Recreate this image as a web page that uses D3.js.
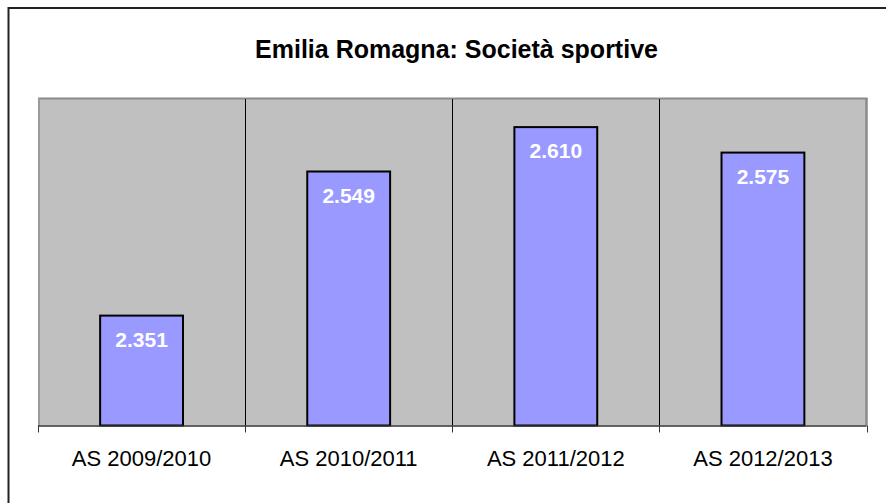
<!DOCTYPE html>
<html><head><meta charset="utf-8">
<script src="https://cdn.jsdelivr.net/npm/d3@7"></script>
<style>body{margin:0;background:#fff}svg{display:block}text{font-family:"Liberation Sans",Arial,sans-serif}</style>
</head><body>
<script>
const categories = ["AS 2009/2010","AS 2010/2011","AS 2011/2012","AS 2012/2013"];
const values = [2351, 2549, 2610, 2575];
const valueLabels = ["2.351","2.549","2.610","2.575"];
const title = "Emilia Romagna: Società sportive";
const yDomain = [2200, 2650];

const W = 886, H = 503;
const L = 38, R = 866.5, T = 98, B = 425.5;
const svg = d3.select("body").append("svg").attr("width", W).attr("height", H);

// outer chart border (only top and left visible)
svg.append("line").attr("x1", 8.5).attr("x2", W).attr("y1", 8).attr("y2", 8).attr("stroke", "#222").attr("stroke-width", 2);
svg.append("line").attr("x1", 8.5).attr("x2", 8.5).attr("y1", 7).attr("y2", H).attr("stroke", "#222").attr("stroke-width", 2);

const x = d3.scaleBand().domain(categories).range([L, R]).paddingInner(0.6).paddingOuter(0.3);
const xc = d3.scaleBand().domain(categories).range([L, R]).padding(0);
const y = d3.scaleLinear().domain(yDomain).range([B, T]);

// plot area
svg.append("rect").attr("x", L).attr("y", T).attr("width", R - L).attr("height", B - T).attr("fill", "#C0C0C0");
svg.append("line").attr("x1", L).attr("x2", R + 1).attr("y1", T + 0.5).attr("y2", T + 0.5).attr("stroke", "#8a8a8a").attr("stroke-width", 2);
svg.append("line").attr("x1", R).attr("x2", R).attr("y1", T).attr("y2", B).attr("stroke", "#8a8a8a").attr("stroke-width", 2.5);
svg.append("line").attr("x1", L + 1).attr("x2", L + 1).attr("y1", T).attr("y2", B).attr("stroke", "#9a9a9a").attr("stroke-width", 2);

// vertical gridlines at category boundaries
svg.selectAll(".grid").data(categories.slice(1)).enter().append("line")
  .attr("x1", d => Math.round(xc(d)) + 0.5).attr("x2", d => Math.round(xc(d)) + 0.5)
  .attr("y1", T + 1).attr("y2", B).attr("stroke", "#000").attr("stroke-width", 1);

// bars
svg.selectAll(".bar").data(values).enter().append("rect")
  .attr("x", (d, i) => x(categories[i]))
  .attr("y", d => y(d))
  .attr("width", x.bandwidth())
  .attr("height", d => B - y(d))
  .attr("fill", "#9999FF").attr("stroke", "#000").attr("stroke-width", 2);

// x axis
const xAxis = d3.axisBottom(xc).tickSize(0).tickPadding(0).tickFormat("");
const gx = svg.append("g").attr("transform", `translate(0,${B})`).call(xAxis);
gx.select(".domain").remove();
svg.append("line").attr("x1", L).attr("x2", R).attr("y1", B + 0.5).attr("y2", B + 0.5).attr("stroke", "#333").attr("stroke-width", 1.5);
const bounds = categories.map(c => xc(c)).concat([R]);
svg.selectAll(".tick2").data(bounds).enter().append("line")
  .attr("x1", d => Math.round(d) + 0.5).attr("x2", d => Math.round(d) + 0.5)
  .attr("y1", B).attr("y2", B + 7).attr("stroke", "#333").attr("stroke-width", 1);

svg.selectAll(".clabel").data(categories).enter().append("text")
  .attr("x", d => xc(d) + xc.bandwidth() / 2).attr("y", 466)
  .attr("text-anchor", "middle").attr("font-size", 22).attr("fill", "#000").text(d => d);

// value labels
svg.selectAll(".vlabel").data(values).enter().append("text")
  .attr("x", (d, i) => x(categories[i]) + x.bandwidth() / 2)
  .attr("y", d => y(d) + 31)
  .attr("text-anchor", "middle").attr("font-size", 21).attr("font-weight", "bold").attr("fill", "#fff")
  .text((d, i) => valueLabels[i]);

// title
svg.append("text").attr("x", 456.5).attr("y", 58.3).attr("text-anchor", "middle")
  .attr("font-size", 25).attr("font-weight", "bold").attr("fill", "#000").text(title);
</script>
</body></html>
